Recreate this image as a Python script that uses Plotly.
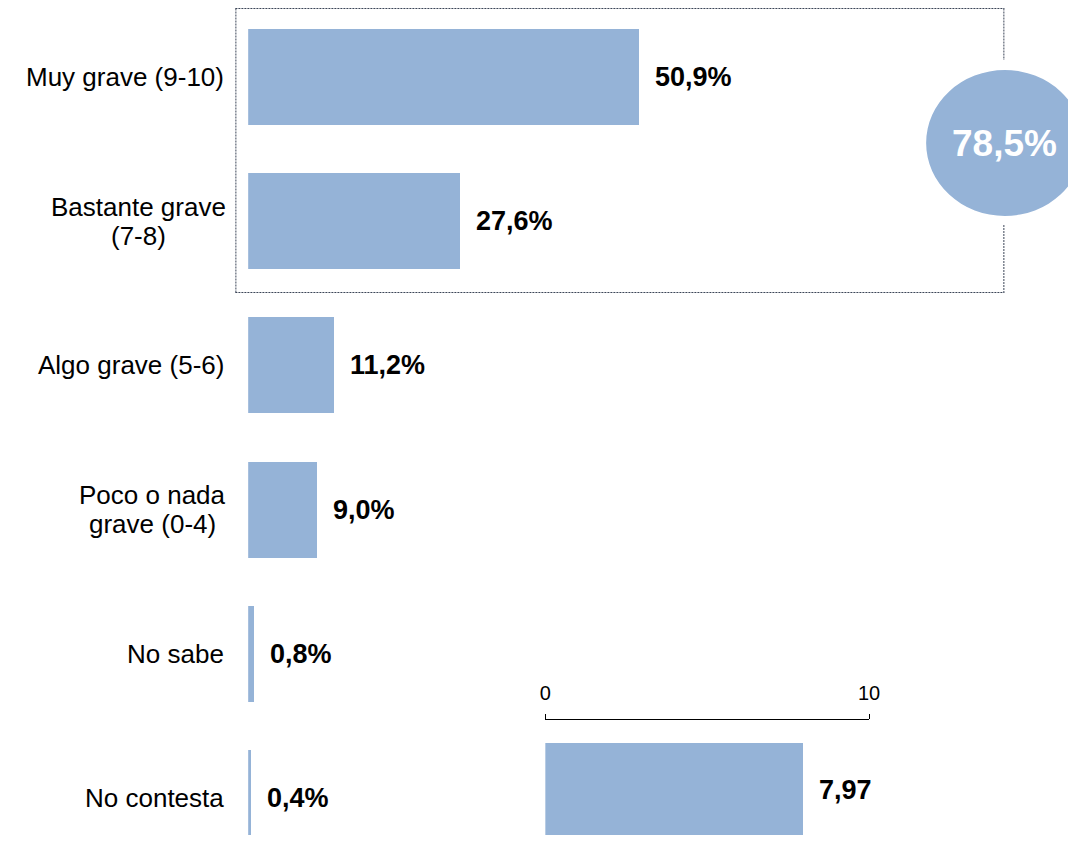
import plotly.graph_objects as go

categories = ["Muy grave (9-10)", "Bastante grave<br>(7-8)", "Algo grave (5-6)",
              "Poco o nada<br>grave (0-4)", "No sabe", "No contesta"]
values = [50.9, 27.6, 11.2, 9.0, 0.8, 0.4]
grave_total = 78.5
mean_value = 7.97
mean_ticks = [0, 10]

# the page keeps the default 8px body margin: size the figure so nothing overflows
OFF = 8
W, H = 1076 - 2 * OFF, 843 - 2 * OFF
BAR = "#95B3D7"
FONT = "Arial, Liberation Sans, sans-serif"
LABEL_SIZE = 26

# Arial advance widths (1/1000 em) used to centre multi-line labels
ARIAL_W = {" ": 278, "(": 333, ")": 333, "-": 333, "B": 667, "P": 667, "M": 833,
           "N": 722, "A": 667, "a": 556, "c": 500, "d": 556, "e": 556, "g": 556,
           "l": 222, "n": 556, "o": 556, "r": 333, "s": 500, "t": 278, "u": 556,
           "v": 500, "y": 500, "b": 556}

def text_w(s, size):
    return sum(ARIAL_W.get(ch, 556) for ch in s) * size / 1000

def fmt(v, d=1):
    return f"{v:.{d}f}".replace(".", ",")

def px(x):
    return (x - OFF) / W

def py(y):
    return 1 - (y - OFF) / H

positions = list(range(len(categories)))

fig = go.Figure()
fig.add_trace(go.Bar(x=values, y=positions, orientation="h", width=0.666,
                     marker=dict(color=BAR, line=dict(width=0)),
                     xaxis="x", yaxis="y", hoverinfo="skip"))
fig.add_trace(go.Bar(x=[mean_value], y=[0], orientation="h", width=1,
                     marker=dict(color=BAR, line=dict(width=0)),
                     xaxis="x2", yaxis="y2", hoverinfo="skip"))

px_per_unit = 144.2
y_top = (OFF - 77) / px_per_unit
y_bot = (843 - OFF - 77) / px_per_unit

LABEL_RIGHT = 222
LINE_GAP = 29
annotations = []
for i, cat in enumerate(categories):
    lines = cat.split("<br>")
    n = len(lines)
    if n == 1:
        annotations.append(dict(text=cat, xref="paper", x=px(LABEL_RIGHT + 1), xanchor="right",
                                yref="y", y=i, yanchor="middle", showarrow=False,
                                font=dict(family=FONT, size=LABEL_SIZE, color="#000000")))
    else:
        maxw = max(text_w(ln, LABEL_SIZE) for ln in lines)
        cx = LABEL_RIGHT - maxw / 2
        for j, ln in enumerate(lines):
            annotations.append(dict(text=ln, xref="paper", x=px(cx), xanchor="center",
                                    yref="y", y=i, yanchor="middle",
                                    yshift=((n - 1) / 2 - j) * LINE_GAP, showarrow=False,
                                    font=dict(family=FONT, size=LABEL_SIZE, color="#000000")))
for i, v in enumerate(values):
    annotations.append(dict(text=f"<b>{fmt(v)}%</b>", xref="x", x=v, xanchor="left",
                            xshift=14, yref="y", y=i, yanchor="middle", showarrow=False,
                            font=dict(family=FONT, size=27, color="#000000")))
annotations.append(dict(text=f"<b>{fmt(mean_value, 2)}</b>", xref="x2", x=mean_value,
                        xanchor="left", xshift=14, yref="y2", y=0, yanchor="middle",
                        showarrow=False, font=dict(family=FONT, size=27, color="#000000")))
annotations.append(dict(text=f"<b>{fmt(grave_total)}%</b>", xref="paper", x=px(1015),
                        xanchor="center", yref="paper", y=py(143), yanchor="middle",
                        showarrow=False, font=dict(family=FONT, size=37, color="#FFFFFF")))

box_line = dict(color="#3c4658", width=1, dash="2px,1px")
shapes = [
    dict(type="line", xref="paper", yref="paper", x0=px(233), x1=px(1014.5), y0=py(8.5), y1=py(8.5), line=box_line),
    dict(type="line", xref="paper", yref="paper", x0=px(233), x1=px(1014.5), y0=py(292.5), y1=py(292.5), line=box_line),
    dict(type="line", xref="paper", yref="paper", x0=px(233.5), x1=px(233.5), y0=py(8.5), y1=py(292.5), line=box_line),
    dict(type="line", xref="paper", yref="paper", x0=px(1014), x1=px(1014), y0=py(8.5), y1=py(60), line=box_line),
    dict(type="line", xref="paper", yref="paper", x0=px(1014), x1=px(1014), y0=py(225), y1=py(292.5), line=box_line),
    dict(type="circle", xref="paper", yref="paper", x0=px(935), x1=px(1095), y0=py(216), y1=py(70),
         fillcolor=BAR, line=dict(width=0), layer="above"),
]

fig.update_layout(
    width=W, height=H, margin=dict(l=0, r=0, t=0, b=0),
    paper_bgcolor="white", plot_bgcolor="white", showlegend=False,
    font=dict(family=FONT),
    xaxis=dict(domain=[px(246), 1], range=[0, (1076 - OFF - 246) / 7.8], visible=False, fixedrange=True),
    yaxis=dict(domain=[0, 1], range=[y_bot, y_top], visible=False, fixedrange=True),
    xaxis2=dict(domain=[px(548), px(877)], range=[0, 10], anchor="y2", side="top",
                tickvals=mean_ticks, ticktext=[str(t) for t in mean_ticks],
                ticks="outside", ticklen=5, tickcolor="#000000", showline=True,
                linecolor="#000000", linewidth=1, showgrid=False, zeroline=False,
                ticklabelstandoff=6,
                tickfont=dict(family=FONT, size=20, color="#000000")),
    yaxis2=dict(domain=[0, py(720)], range=[-(843 - OFF - 789.5) / 93, (789.5 - 720) / 93],
                anchor="x2", visible=False),
    annotations=annotations, shapes=shapes, bargap=0,
)

fig.write_html("out.html")
